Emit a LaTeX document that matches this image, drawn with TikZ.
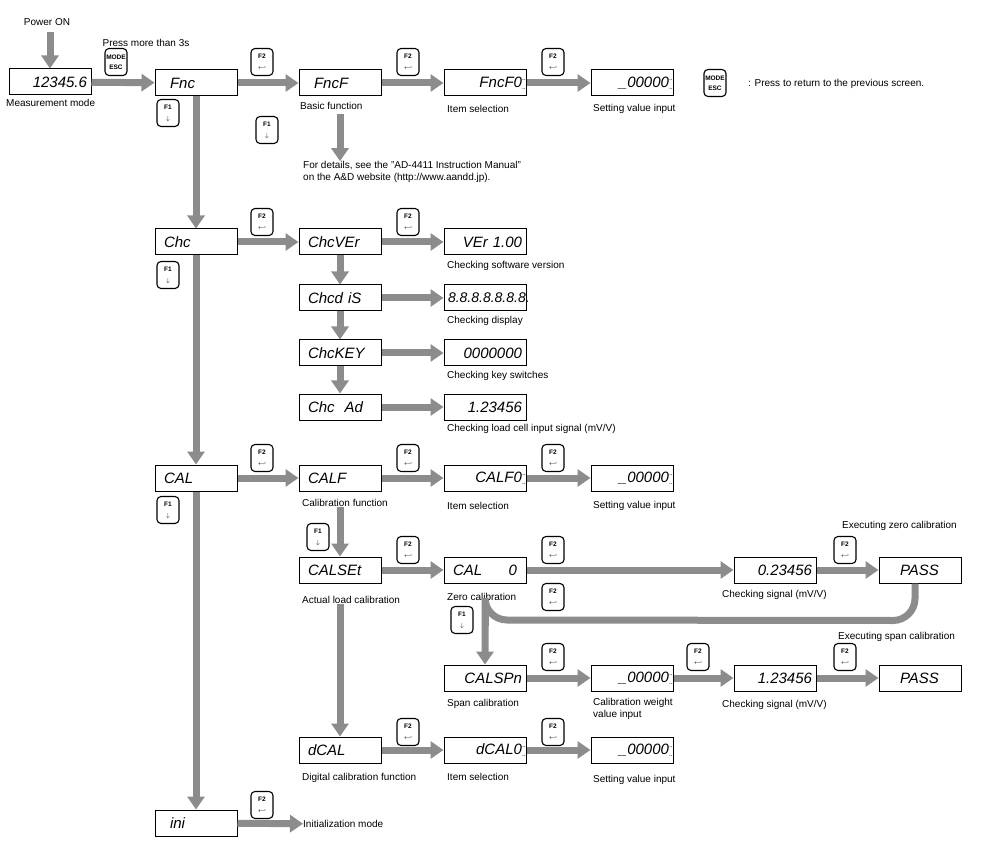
\documentclass[tikz,border=0pt]{standalone}
\usepackage{fontspec}
\setmainfont{Liberation Sans}
\usetikzlibrary{arrows.meta}
\definecolor{ag}{HTML}{8C8C8C}
\begin{document}
\begin{tikzpicture}[x=1pt,y=-1pt,
 disp/.style={draw,line width=1pt,minimum width=82pt,minimum height=26pt,inner sep=0pt,text width=64pt,font=\fontsize{15}{15}\itshape\selectfont,align=left},
 dispr/.style={disp,text width=74pt,align=right},
 key/.style={draw,line width=1.1pt,rounded corners=4pt,minimum width=22pt,minimum height=27pt,inner sep=0pt,font=\fontsize{6.5}{8}\bfseries\selectfont,align=center},
 lab/.style={font=\fontsize{10}{12}\selectfont,anchor=west,inner sep=0pt,align=left},
 ar/.style={draw=ag,line width=7pt,-{Triangle[length=13pt,width=17pt]}},
 ln/.style={draw=ag,line width=7pt}]
\useasboundingbox (0,0) rectangle (1001,858);
\newcommand{\dd}{\rlap{\raisebox{7pt}{\fontsize{7}{7}\upshape..}}\rlap{\raisebox{-2pt}{\fontsize{7}{7}\upshape..}}\hspace*{8pt}}
% displays
\node[dispr] (m) at (50,82) {12345.6};
\node[disp] (fnc) at (196,83) {\hspace*{6pt}Fnc};
\node[disp] (fncf) at (340,83) {\hspace*{6pt}FncF};
\node[dispr] (fncf0) at (485,83) {FncF0\dd};
\node[dispr] (s1) at (632,83) {\_00000\dd};
\node[disp] (chc) at (196,242) {Chc};
\node[disp] (chcver) at (340,242) {ChcVEr};
\node[dispr] (ver) at (485,242) {VEr 1.00};
\node[disp] (chcdis) at (340,298) {Chcd iS};
\node[dispr] (eight) at (485,298) {\fontsize{14}{14}\selectfont 8.8.8.8.8.8.8.};
\node[disp] (chckey) at (340,353) {ChcKEY};
\node[dispr] (zeros) at (485,353) {0000000};
\node[disp] (chcad) at (340,407) {Chc\ \ Ad};
\node[dispr] (sig1) at (485,407) {1.23456};
\node[disp] (cal) at (196,478) {CAL};
\node[disp] (calf) at (340,478) {CALF};
\node[dispr] (calf0) at (485,478) {CALF0\dd};
\node[dispr] (s2) at (632,478) {\_00000\dd};
\node[disp] (calset) at (340,570) {CALSEt};
\node[disp] (cal0) at (485,570) {CAL\hfill 0};
\node[dispr] (sig2) at (775,570) {0.23456};
\node[disp] (pass1) at (920,570) {\hspace*{12pt}PASS};
\node[dispr] (calspn) at (485,678) {CALSPn};
\node[dispr] (s3) at (632,678) {\_00000\dd};
\node[dispr] (sig3) at (775,678) {1.23456};
\node[disp] (pass2) at (920,678) {\hspace*{12pt}PASS};
\node[disp] (dcal) at (340,750) {dCAL};
\node[dispr] (dcal0) at (485,750) {dCAL0\dd};
\node[dispr] (s4) at (632,750) {\_00000\dd};
\node[disp] (ini) at (196,823) {\hspace*{6pt}ini};
% labels
\node[font=\fontsize{10}{12}\selectfont] (pon) at (47,22) {Power ON};
\coordinate (ponb) at (50,32);
\node[font=\fontsize{10}{12}\selectfont] at (146,43) {Press more than 3s};
\node[lab] at (6,103) {Measurement mode};
\node[lab] at (300,106) {Basic function};
\node[lab] at (447,109) {Item selection};
\node[lab] at (593,109) {Setting value input};
\node[lab] at (748,84) {: Press to return to the previous screen.};
\node[lab] (det) at (303,172) {For details, see the "AD-4411 Instruction Manual"\\on the A\&D website (http://www.aandd.jp).};
\node[lab] at (447,266) {Checking software version};
\node[lab] at (447,321) {Checking display};
\node[lab] at (447,376) {Checking key switches};
\node[lab] at (447,429) {Checking load cell input signal (mV/V)};
\node[lab] (lcalf) at (302,503) {Calibration function};
\node[lab] at (447,506) {Item selection};
\node[lab] at (593,506) {Setting value input};
\node[lab] at (842,526) {Executing zero calibration};
\node[lab] (lcalset) at (302,600) {Actual load calibration};
\node[lab] (lcal0) at (447,597) {Zero calibration};
\node[lab] at (722,595) {Checking signal (mV/V)};
\node[lab] at (838,637) {Executing span calibration};
\node[lab] at (447,704) {Span calibration};
\node[lab] at (593,709) {Calibration weight\\value input};
\node[lab] at (722,705) {Checking signal (mV/V)};
\node[lab] at (302,778) {Digital calibration function};
\node[lab] at (447,777) {Item selection};
\node[lab] at (593,780) {Setting value input};
\node[lab] (inil) at (303,824) {Initialization mode};
% keys
\newcommand{\fone}{F1\\[3pt]{\normalfont$\downarrow$}}
\newcommand{\ftwo}{F2\\[3pt]{\normalfont$\hookleftarrow$}}
\node[key] (k1) at (116,62) {MODE\\[2pt]ESC};
\node[key] (k2) at (715,83) {MODE\\[2pt]ESC};
\foreach \n/\p in {a/{168,113},b/{267,130},c/{168,275},d/{168,510},e/{318,537},f/{462,620}}
  \node[key] (f1\n) at (\p) {\fone};
\foreach \n/\p in {a/{262,62},b/{408,62},c/{553,62},d/{262,222},e/{408,222},f/{262,458},g/{408,458},h/{553,458},i/{408,550},j/{553,550},k/{845,550},l/{553,597},m/{553,657},n/{698,657},o/{845,657},p/{408,732},q/{553,732},r/{262,805}}
  \node[key] (f2\n) at (\p) {\ftwo};
% connectors
\draw[ar] (ponb) -- (m);
\draw[ar] (m) -- (fnc);
\draw[ar] (fnc) -- (fncf);
\draw[ar] (fncf) -- (fncf0);
\draw[ar] (fncf0) -- (s1);
\draw[ar] (fncf.south) ++(0,18) -- (det.north -| fncf.south);
\draw[ar] (fnc) -- (chc);
\draw[ar] (chc) -- (cal);
\draw[ar] (cal) -- (ini);
\draw[ar] (chc) -- (chcver);
\draw[ar] (chcver) -- (ver);
\draw[ar] (chcver) -- (chcdis);
\draw[ar] (chcdis) -- (eight);
\draw[ar] (chcdis) -- (chckey);
\draw[ar] (chckey) -- (zeros);
\draw[ar] (chckey) -- (chcad);
\draw[ar] (chcad) -- (sig1);
\draw[ar] (cal) -- (calf);
\draw[ar] (calf0) -- (s2);
\draw[ar] (calf) -- (calf0);
\draw[ar] (lcalf.south -| calf.south) -- (calset);
\draw[ar] (lcalset.south -| calset.south) -- (dcal);
\draw[ar] (calset) -- (cal0);
\draw[ar] (cal0) -- (sig2);
\draw[ar] (sig2) -- (pass1);
\draw[ln] (lcal0.south -| cal0.south) -- ++(0,25);
\draw[ar] (pass1.south) ++(-5,0) -- ++(0,15) arc[start angle=0,end angle=90,radius=22] -- (507,620) arc[start angle=90,end angle=180,radius=22] -- (calspn.north);
\draw[ar] (calspn) -- (s3);
\draw[ar] (s3) -- (sig3);
\draw[ar] (sig3) -- (pass2);
\draw[ar] (dcal) -- (dcal0);
\draw[ar] (dcal0) -- (s4);
\draw[ar] (ini) -- (inil);
\end{tikzpicture}
\end{document}
